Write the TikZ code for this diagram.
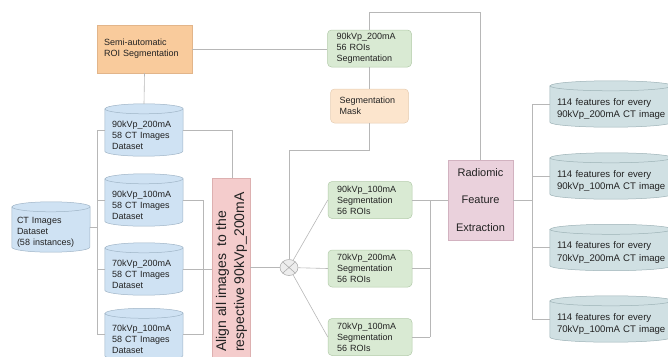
\documentclass[tikz,border=0pt]{standalone}
\usepackage{fontspec}
\setmainfont{Liberation Sans}
\usetikzlibrary{shapes.geometric}
\pgfdeclarelayer{background}
\pgfsetlayers{background,main}
\definecolor{lncol}{HTML}{B7B7B7}
\definecolor{txtcol}{HTML}{222222}
\definecolor{ctfill}{HTML}{CFE2F3}
\definecolor{ctdraw}{HTML}{9FB4C6}
\definecolor{ftfill}{HTML}{D0E0E3}
\definecolor{ftdraw}{HTML}{9DB2B6}
\definecolor{semifill}{HTML}{F9CB9C}
\definecolor{semidraw}{HTML}{E2B58A}
\definecolor{grfill}{HTML}{D9EAD3}
\definecolor{grdraw}{HTML}{B2CBA9}
\definecolor{mkfill}{HTML}{FCE5CD}
\definecolor{mkdraw}{HTML}{E6CDB2}
\definecolor{alfill}{HTML}{F4CCCC}
\definecolor{aldraw}{HTML}{DDB0B0}
\definecolor{rdfill}{HTML}{EAD1DC}
\definecolor{rddraw}{HTML}{D2B2C0}
\newcommand\cylshape[4]{% node, x radius, fill, draw
  \path[fill=#3,draw=#4,line width=0.5pt] ([yshift=5pt]#1.north west) -- ([yshift=5pt]#1.south west)
    arc[start angle=180,end angle=360,x radius=#2,y radius=5pt] -- ([yshift=5pt]#1.north east)
    arc[start angle=0,end angle=180,x radius=#2,y radius=5pt] -- cycle;
  \draw[#4,line width=0.5pt] ([yshift=5pt]#1.north west) arc[start angle=180,end angle=360,x radius=#2,y radius=5pt];
}
\tikzset{
  base/.style={inner ysep=0pt,text=txtcol,font=\fontsize{9}{11}\selectfont},
  ctcyl/.style={base,minimum width=78pt,minimum height=42pt,inner xsep=7pt,text width=64pt,align=left},
  ftcyl/.style={base,minimum width=122pt,minimum height=36pt,inner xsep=7pt,text width=108pt,align=left,font=\fontsize{9.6}{12.5}\selectfont},
  semibox/.style={base,draw=semidraw,fill=semifill,line width=0.5pt,minimum width=95pt,minimum height=48pt,inner xsep=7pt,text width=81pt,align=left},
  grbox/.style={base,draw=grdraw,fill=grfill,line width=0.5pt,rounded corners=4pt,minimum width=84pt,minimum height=37pt,inner xsep=9pt,text width=66pt,align=left},
  mkbox/.style={base,draw=mkdraw,fill=mkfill,line width=0.5pt,rounded corners=4pt,minimum width=78pt,minimum height=34pt,inner xsep=9pt,text width=60pt,align=left},
  conn/.style={draw=lncol,line width=0.6pt},
}
\begin{document}
\begin{tikzpicture}[x=1pt,y=-1pt]
\useasboundingbox (0,0) rectangle (668,356);
% nodes
\node[semibox] (semi) at (144.5,49) {Semi-automatic\\ROI Segmentation};
\node[ctcyl] (cyl1) at (144,135) {90kVp\_200mA\\58 CT Images\\Dataset};
\node[ctcyl] (cyl2) at (144,205) {90kVp\_100mA\\58 CT Images\\Dataset};
\node[ctcyl] (cyl3) at (144,274) {70kVp\_200mA\\58 CT Images\\Dataset};
\node[ctcyl] (cyl4) at (144,339.5) {70kVp\_100mA\\58 CT Images\\Dataset};
\node[base,minimum width=78pt,minimum height=40pt,inner xsep=5pt,text width=68pt,align=left] (ctall) at (51,232) {CT Images\\Dataset\\(58 instances)};
\node[base,draw=aldraw,fill=alfill,line width=0.5pt,minimum width=38pt,minimum height=198pt] (alignbox) at (231,277) {};
\node[base,rotate=90,anchor=west,align=left,inner sep=0pt,font=\fontsize{14}{18}\selectfont] (aligntext) at (231.5,352) {Align all images~ to the\\respective 90kVp\_200mA};
\node[ellipse,draw=lncol!90!black,fill=black!7,line width=0.5pt,minimum width=18pt,minimum height=16pt,inner sep=0pt,
  path picture={\draw[lncol!90!black,line width=0.5pt] (path picture bounding box.south west) -- (path picture bounding box.north east)
  (path picture bounding box.north west) -- (path picture bounding box.south east);}] (circ) at (289,267.5) {};
\node[grbox] (g1) at (369.5,48.5) {90kVp\_200mA\\56 ROIs\\Segmentation};
\node[mkbox] (mask) at (369.5,106) {Segmentation\\Mask};
\node[grbox] (g2) at (370,200) {90kVp\_100mA\\Segmentation\\56 ROIs};
\node[grbox] (g3) at (370,268.5) {70kVp\_200mA\\Segmentation\\56 ROIs};
\node[grbox] (g4) at (370,337) {70kVp\_100mA\\Segmentation\\56 ROIs};
\node[base,draw=rddraw,fill=rdfill,line width=0.5pt,minimum width=65pt,minimum height=80pt,align=center,font=\fontsize{11}{27.5}\selectfont] (rad) at (480.5,200) {Radiomic\\Feature\\Extraction};
\node[ftcyl] (fA) at (611,109) {\mbox{114 features for every}\\\mbox{90kVp\_200mA CT image}};
\node[ftcyl] (fB) at (611,181) {\mbox{114 features for every}\\\mbox{90kVp\_100mA CT image}};
\node[ftcyl] (fC) at (611,252.5) {\mbox{114 features for every}\\\mbox{70kVp\_200mA CT image}};
\node[ftcyl] (fD) at (611,324) {\mbox{114 features for every}\\\mbox{70kVp\_100mA CT image}};
% cylinder outlines
\begin{pgfonlayer}{background}
  \cylshape{cyl1}{39pt}{ctfill}{ctdraw}
  \cylshape{cyl2}{39pt}{ctfill}{ctdraw}
  \cylshape{cyl3}{39pt}{ctfill}{ctdraw}
  \cylshape{cyl4}{39pt}{ctfill}{ctdraw}
  \cylshape{ctall}{39pt}{ctfill}{ctdraw}
  \cylshape{fA}{61pt}{ftfill}{ftdraw}
  \cylshape{fB}{61pt}{ftfill}{ftdraw}
  \cylshape{fC}{61pt}{ftfill}{ftdraw}
  \cylshape{fD}{61pt}{ftfill}{ftdraw}
\end{pgfonlayer}
% helper coordinates
\coordinate (lb) at (97,0);
\coordinate (rb) at (203,0);
\coordinate (gb) at (430,0);
\coordinate (fb) at (532,0);
\foreach \n in {cyl1,cyl2,cyl3,cyl4,ctall,fA,fB,fC,fD}{
  \coordinate (\n W) at ([yshift=5pt]\n.west);
  \coordinate (\n E) at ([yshift=5pt]\n.east);
}
% connectors
\draw[conn] (semi.south) -- ([yshift=10pt]cyl1.north);
\draw[conn] (semi.east) -- (semi.east -| g1.west);
\draw[conn] (ctallE) -- (ctallE -| lb);
\draw[conn] (cyl1W) -- (cyl1W -| lb) -- (cyl4W -| lb) -- (cyl4W);
\draw[conn] (cyl2W -| lb) -- (cyl2W);
\draw[conn] (cyl3W -| lb) -- (cyl3W);
\draw[conn] (cyl1E) -| ([xshift=1pt]alignbox.north);
\draw[conn] (cyl2E) -- (cyl2E -| rb) -- (cyl4E -| rb) -- (cyl4E);
\draw[conn] (cyl3E) -- (cyl3E -| alignbox.west);
\draw[conn] (alignbox.east |- circ) -- (circ);
\draw[conn] (circ) -- (g2.west);
\draw[conn] (circ) -- (g3.west);
\draw[conn] (circ) -- (g4.west);
\draw[conn] (g1.south) -- (g1.south |- mask.north);
\draw[conn] (mask.south) -- ++(0,27) -| (circ.north);
\draw[conn] (g1.north) -- ++(0,-17.5) -| (rad.north);
\draw[conn] (g2.east) -- (rad.west);
\draw[conn] (g2.east -| gb) -- (g4.east -| gb);
\draw[conn] (g3.east) -- (g3.east -| gb);
\draw[conn] (g4.east) -- (g4.east -| gb);
\draw[conn] (rad.east) -- (rad.east -| fb);
\draw[conn] (fAW -| fb) -- (fDW -| fb);
\draw[conn] (fAW -| fb) -- (fAW);
\draw[conn] (fBW -| fb) -- (fBW);
\draw[conn] (fCW -| fb) -- (fCW);
\draw[conn] (fDW -| fb) -- (fDW);
\end{tikzpicture}
\end{document}
